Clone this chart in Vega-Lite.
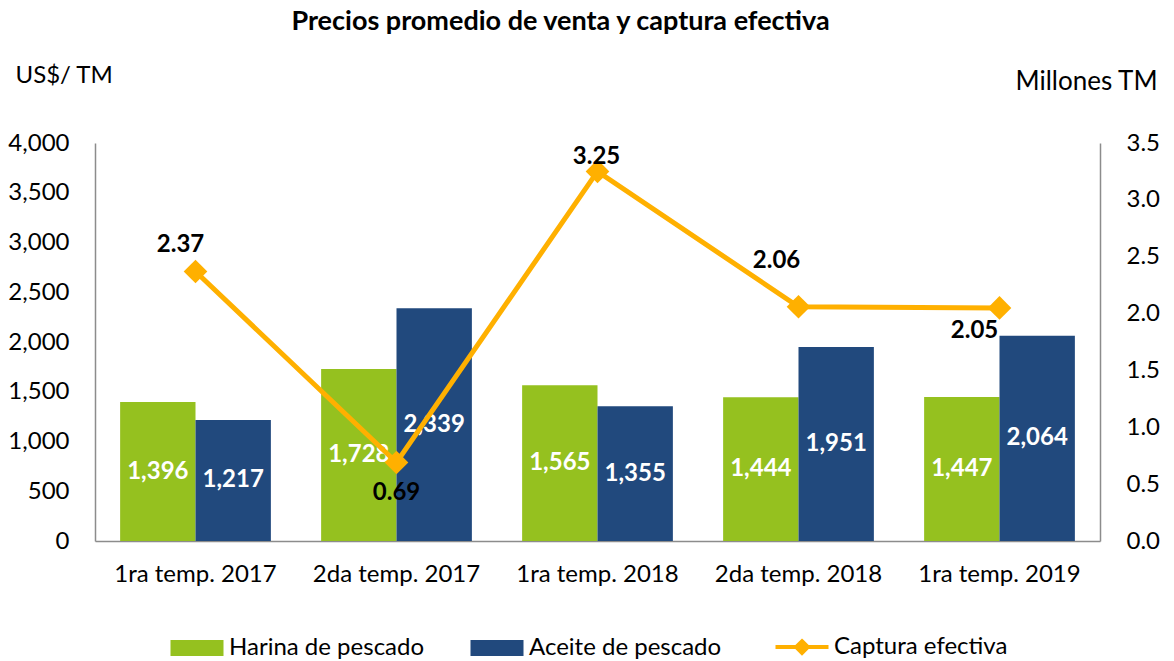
{
  "$schema": "https://vega.github.io/schema/vega-lite/v6.json",
  "width": 1005,
  "height": 398,
  "autosize": {"type": "none"},
  "padding": {"left": 95, "top": 143, "right": 74, "bottom": 120},
  "background": "white",
  "config": {
    "font": "Lato",
    "view": {"stroke": null},
    "axis": {"labelFont": "Lato", "titleFont": "Lato", "labelColor": "#000000", "titleColor": "#000000", "grid": false, "ticks": false, "domainColor": "#8c8c8c", "domainWidth": 1.5}
  },
  "title": {
    "text": "Precios promedio de venta y captura efectiva",
    "font": "Lato",
    "fontSize": 27,
    "fontWeight": "bold",
    "color": "#000000",
    "anchor": "middle",
    "frame": "group",
    "dx": -37,
    "offset": 27
  },
  "datasets": {
    "precios": [
      {"temporada": "1ra temp. 2017", "serie": "Harina de pescado", "valor": 1396},
      {"temporada": "1ra temp. 2017", "serie": "Aceite de pescado", "valor": 1217},
      {"temporada": "2da temp. 2017", "serie": "Harina de pescado", "valor": 1728},
      {"temporada": "2da temp. 2017", "serie": "Aceite de pescado", "valor": 2339},
      {"temporada": "1ra temp. 2018", "serie": "Harina de pescado", "valor": 1565},
      {"temporada": "1ra temp. 2018", "serie": "Aceite de pescado", "valor": 1355},
      {"temporada": "2da temp. 2018", "serie": "Harina de pescado", "valor": 1444},
      {"temporada": "2da temp. 2018", "serie": "Aceite de pescado", "valor": 1951},
      {"temporada": "1ra temp. 2019", "serie": "Harina de pescado", "valor": 1447},
      {"temporada": "1ra temp. 2019", "serie": "Aceite de pescado", "valor": 2064}
    ],
    "captura": [
      {"temporada": "1ra temp. 2017", "serie": "Captura efectiva", "valor": 2.37},
      {"temporada": "2da temp. 2017", "serie": "Captura efectiva", "valor": 0.69},
      {"temporada": "1ra temp. 2018", "serie": "Captura efectiva", "valor": 3.25},
      {"temporada": "2da temp. 2018", "serie": "Captura efectiva", "valor": 2.06},
      {"temporada": "1ra temp. 2019", "serie": "Captura efectiva", "valor": 2.05}
    ]
  },
  "encoding": {
    "x": {
      "field": "temporada",
      "type": "nominal",
      "sort": null,
      "scale": {"paddingInner": 0.25, "paddingOuter": 0.125},
      "axis": {"title": null, "labelAngle": 0, "labelFontSize": 24, "labelPadding": 21}
    }
  },
  "layer": [
    {
      "data": {"name": "precios"},
      "encoding": {
        "xOffset": {"field": "serie", "type": "nominal", "sort": ["Harina de pescado", "Aceite de pescado"]},
        "y": {
          "field": "valor",
          "type": "quantitative",
          "scale": {"domain": [0, 4000], "nice": false},
          "axis": {
            "values": [0, 500, 1000, 1500, 2000, 2500, 3000, 3500, 4000],
            "format": ",.0f",
            "labelFontSize": 24,
            "labelPadding": 26,
            "title": "US$/ TM",
            "titleFontSize": 24,
            "titleFontWeight": "normal",
            "titleAngle": 0,
            "titleAlign": "left",
            "titleBaseline": "middle",
            "titleX": -80,
            "titleY": -68
          }
        }
      },
      "layer": [
        {
          "mark": {"type": "bar"},
          "encoding": {
            "color": {
              "field": "serie",
              "type": "nominal",
              "scale": {"domain": ["Harina de pescado", "Aceite de pescado", "Captura efectiva"], "range": ["#95C11F", "#21497D", "#FFB000"]},
              "legend": {
                "title": null,
                "orient": "none",
                "direction": "horizontal",
                "legendX": 75,
                "legendY": 492,
                "padding": 0,
                "labelFont": "Lato",
                "labelFontSize": 24,
                "labelColor": "#000000",
                "labelLimit": 400,
                "labelOffset": 20,
                "symbolOffset": 15,
                "columnPadding": 45,
                "symbolSize": 2809,
                "symbolStrokeWidth": 4,
                "encode": {
                  "symbols": {
                    "update": {
                      "shape": {"signal": "datum.value === 'Captura efectiva' ? 'M-1,0H1M0,-0.22L0.22,0L0,0.22L-0.22,0Z' : 'M-1,-0.3H1V0.3H-1Z'"},
                      "fill": {"scale": "color", "field": "value"},
                      "stroke": {"scale": "color", "field": "value"},
                      "strokeWidth": {"signal": "datum.value === 'Captura efectiva' ? 4 : 0"},
                      "opacity": {"value": 1}
                    }
                  }
                }
              }
            }
          }
        },
        {
          "transform": [{"calculate": "datum.valor / 2", "as": "mitad"}],
          "mark": {"type": "text", "color": "white", "fontWeight": "bold", "fontSize": 24, "baseline": "middle", "align": "center"},
          "encoding": {
            "y": {"field": "mitad", "type": "quantitative"},
            "text": {"field": "valor", "type": "quantitative", "format": ","}
          }
        }
      ]
    },
    {
      "data": {"name": "captura"},
      "encoding": {
        "y": {
          "field": "valor",
          "type": "quantitative",
          "scale": {"domain": [0, 3.5], "nice": false},
          "axis": {
            "orient": "right",
            "values": [0, 0.5, 1, 1.5, 2, 2.5, 3, 3.5],
            "format": ".1f",
            "labelFontSize": 24,
            "labelPadding": 26,
            "title": "Millones TM",
            "titleFontSize": 26,
            "titleFontWeight": "normal",
            "titleAngle": 0,
            "titleAlign": "left",
            "titleBaseline": "middle",
            "titleX": -85,
            "titleY": -62
          }
        }
      },
      "layer": [
        {
          "mark": {"type": "line", "strokeWidth": 5, "point": {"shape": "diamond", "size": 560, "filled": true, "opacity": 1}},
          "encoding": {
            "color": {"field": "serie", "type": "nominal"}
          }
        },
        {
          "transform": [{"filter": {"field": "temporada", "equal": "1ra temp. 2017"}}],
          "mark": {"type": "text", "fontWeight": "bold", "fontSize": 24, "color": "#000000", "baseline": "middle", "dx": -15, "dy": -26},
          "encoding": {"text": {"field": "valor", "type": "quantitative", "format": ".2f"}}
        },
        {
          "transform": [{"filter": {"field": "temporada", "equal": "2da temp. 2017"}}],
          "mark": {"type": "text", "fontWeight": "bold", "fontSize": 24, "color": "#000000", "baseline": "middle", "dx": 0, "dy": 30},
          "encoding": {"text": {"field": "valor", "type": "quantitative", "format": ".2f"}}
        },
        {
          "transform": [{"filter": {"field": "temporada", "equal": "1ra temp. 2018"}}],
          "mark": {"type": "text", "fontWeight": "bold", "fontSize": 24, "color": "#000000", "baseline": "middle", "dx": -1, "dy": -14},
          "encoding": {"text": {"field": "valor", "type": "quantitative", "format": ".2f"}}
        },
        {
          "transform": [{"filter": {"field": "temporada", "equal": "2da temp. 2018"}}],
          "mark": {"type": "text", "fontWeight": "bold", "fontSize": 24, "color": "#000000", "baseline": "middle", "dx": -22, "dy": -46},
          "encoding": {"text": {"field": "valor", "type": "quantitative", "format": ".2f"}}
        },
        {
          "transform": [{"filter": {"field": "temporada", "equal": "1ra temp. 2019"}}],
          "mark": {"type": "text", "fontWeight": "bold", "fontSize": 24, "color": "#000000", "baseline": "middle", "dx": -25, "dy": 23},
          "encoding": {"text": {"field": "valor", "type": "quantitative", "format": ".2f"}}
        }
      ]
    }
  ],
  "resolve": {"scale": {"y": "independent"}}
}
